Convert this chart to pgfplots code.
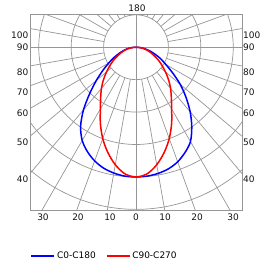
\documentclass[border=0pt]{standalone}
\usepackage{fontspec}
\setmainfont{DejaVu Sans}
\usepackage{pgfplots}
\pgfplotsset{compat=1.18}
\definecolor{gridc}{RGB}{150,150,150}
\definecolor{txt}{RGB}{20,20,20}
\begin{document}
\begin{tikzpicture}[font=\fontsize{9}{11}\selectfont]
\useasboundingbox (-30pt,-56pt) rectangle (245pt,210pt);
\begin{axis}[at={(0pt,0pt)}, anchor=south west, scale only axis,
  width=212pt, height=195.2pt,
  xmin=-3.27, xmax=3.27, ymin=-5.02, ymax=1.0,
  xtick=\empty, ytick=\empty,
  axis line style={gridc, line width=0.8pt},
  legend style={at={(0.352,-0.236)}, anchor=center, draw=none, fill=none,
    legend columns=2, font=\fontsize{9}{11}\selectfont,
    /tikz/every even column/.append style={column sep=8pt}},
  legend image code/.code={\draw[#1] (0pt,0pt) -- (23pt,0pt);},
]
\pgfplotsinvokeforeach{10,20,...,80,100,110,...,170,190,200,...,260,280,290,...,350}{
  \draw[gridc, line width=0.7pt] (axis cs:{cos(#1)},{sin(#1)}) -- (axis cs:{9*cos(#1)},{9*sin(#1)});
}
\draw[gridc, line width=0.7pt] (axis cs:-4,0) -- (axis cs:4,0);
\draw[gridc, line width=0.7pt] (axis cs:0,-6) -- (axis cs:0,2);
\pgfplotsinvokeforeach{1,2,3,4,5,6}{
  \draw[gridc, line width=0.7pt] (axis cs:0,0) circle[radius=#1];
}
\addplot[blue, line width=1.5pt, smooth, data cs=polar] coordinates {
(0,0) (-5,0.14) (-10,0.28) (-15,0.44) (-20,0.62) (-25,0.84) (-30,1.06) (-35,1.38)
(-40,1.78) (-45,2.18) (-50,2.60) (-55,3.00) (-60,3.36) (-65,3.58) (-70,3.76)
(-75,3.88) (-80,3.95) (-85,3.99) (-90,4.00) (-95,3.99) (-100,3.94) (-105,3.86)
(-110,3.73) (-115,3.55) (-120,3.32) (-125,2.98) (-130,2.52) (-135,2.02) (-140,1.60)
(-145,1.25) (-150,0.97) (-155,0.75) (-160,0.55) (-165,0.40) (-170,0.27) (-175,0.13) (-180,0)
};
\addlegendentry{C0-C180}
\addplot[red, line width=1.5pt, smooth, data cs=polar] coordinates {
(0,0) (-5,0.12) (-10,0.24) (-15,0.36) (-20,0.48) (-25,0.62) (-30,0.80) (-35,0.98)
(-40,1.19) (-45,1.42) (-50,1.66) (-55,1.90) (-60,2.20) (-65,2.60) (-70,3.00)
(-75,3.36) (-80,3.68) (-85,3.92) (-90,4.00) (-95,3.92) (-100,3.68) (-105,3.36)
(-110,3.00) (-115,2.60) (-120,2.20) (-125,1.90) (-130,1.66) (-135,1.42) (-140,1.19)
(-145,0.98) (-150,0.80) (-155,0.62) (-160,0.48) (-165,0.36) (-170,0.24) (-175,0.12) (-180,0)
};
\addlegendentry{C90-C270}
\end{axis}
\begin{scope}[every node/.style={inner sep=0pt, text=txt}]
\node[anchor=east] at (-1.5pt,175pt) {100};
\node[anchor=east] at (-1.5pt,163pt) {90};
\node[anchor=east] at (-1.5pt,138pt) {80};
\node[anchor=east] at (-1.5pt,118pt) {70};
\node[anchor=east] at (-1.5pt,97pt) {60};
\node[anchor=east] at (-1.5pt,68pt) {50};
\node[anchor=east] at (-1.5pt,31pt) {40};
\node[anchor=west] at (213pt,175pt) {100};
\node[anchor=west] at (213pt,163pt) {90};
\node[anchor=west] at (213pt,138pt) {80};
\node[anchor=west] at (213pt,118pt) {70};
\node[anchor=west] at (213pt,97pt) {60};
\node[anchor=west] at (213pt,68pt) {50};
\node[anchor=west] at (213pt,31pt) {40};
\node at (13pt,-7pt) {30};
\node at (48pt,-7pt) {20};
\node at (80pt,-7pt) {10};
\node at (106pt,-7pt) {0};
\node at (135pt,-7pt) {10};
\node at (167pt,-7pt) {20};
\node at (203pt,-7pt) {30};
\node at (107pt,201.5pt) {180};
\end{scope}
\end{tikzpicture}
\end{document}
